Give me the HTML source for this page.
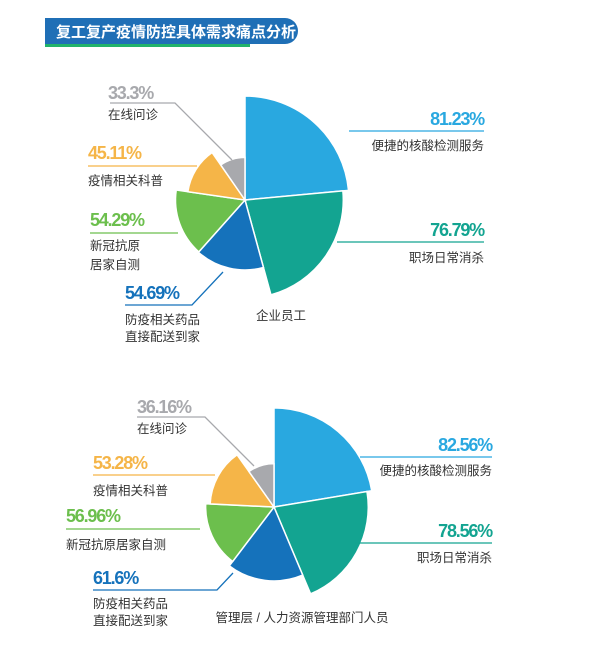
<!DOCTYPE html>
<html><head><meta charset="utf-8"><style>
body{margin:0;background:#fff;}
svg{display:block;font-family:"Liberation Sans","Noto Sans CJK SC",sans-serif;}
.pct{font-weight:bold;font-size:18px;letter-spacing:-1.2px;}
.lbl{font-size:12.5px;fill:#333;}
</style></head><body>
<svg id="c" width="600" height="648" viewBox="0 0 600 648">
<g>
<rect x="45" y="42" width="205" height="5" fill="#21b36b"/>
<path d="M45 18 H285 A13 13 0 0 1 285 44 H45 Z" fill="#1f6fb6"/>
<text x="56" y="37" font-size="15" font-weight="bold" fill="#fff">复工复产疫情防控具体需求痛点分析</text>
</g>
<g id="g1"></g>
<g id="g2"></g>
<g id="ann">
<!-- top chart -->
<text class="pct" x="108" y="99" fill="#a8a9ad">33.3%</text>
<polyline points="110,103 175,103 232,160" fill="none" stroke="#a8a9ad" stroke-width="1.3"/>
<text class="lbl" x="108" y="119">在线问诊</text>
<text class="pct" x="88" y="159" fill="#f5b548">45.11%</text>
<line x1="88" y1="166" x2="197" y2="166" stroke="#f5b548" stroke-width="1.3"/>
<text class="lbl" x="88" y="185">疫情相关科普</text>
<text class="pct" x="90" y="226" fill="#6cbf4d">54.29%</text>
<line x1="90" y1="233" x2="178" y2="233" stroke="#6cbf4d" stroke-width="1.3"/>
<text class="lbl" x="90" y="250">新冠抗原</text>
<text class="lbl" x="90" y="269">居家自测</text>
<text class="pct" x="125" y="299" fill="#1572bb">54.69%</text>
<polyline points="125,305 192,305 223,272" fill="none" stroke="#1572bb" stroke-width="1.3"/>
<text class="lbl" x="125" y="324">防疫相关药品</text>
<text class="lbl" x="125" y="341">直接配送到家</text>
<text class="pct" x="484" y="125" fill="#29a8e0" text-anchor="end">81.23%</text>
<line x1="349" y1="131" x2="484" y2="131" stroke="#29a8e0" stroke-width="1.3"/>
<text class="lbl" x="484" y="150" text-anchor="end">便捷的核酸检测服务</text>
<text class="pct" x="484" y="236" fill="#13a491" text-anchor="end">76.79%</text>
<line x1="337" y1="242" x2="484" y2="242" stroke="#13a491" stroke-width="1.3"/>
<text class="lbl" x="484" y="262" text-anchor="end">职场日常消杀</text>
<text class="lbl" x="281" y="320" text-anchor="middle">企业员工</text>
<!-- bottom chart -->
<text class="pct" x="137" y="413" fill="#a8a9ad">36.16%</text>
<polyline points="137,417 205,417 254,466" fill="none" stroke="#a8a9ad" stroke-width="1.3"/>
<text class="lbl" x="137" y="433">在线问诊</text>
<text class="pct" x="93" y="469" fill="#f5b548">53.28%</text>
<line x1="93" y1="475" x2="215" y2="475" stroke="#f5b548" stroke-width="1.3"/>
<text class="lbl" x="93" y="495">疫情相关科普</text>
<text class="pct" x="66" y="522" fill="#6cbf4d">56.96%</text>
<line x1="66" y1="529" x2="200" y2="529" stroke="#6cbf4d" stroke-width="1.3"/>
<text class="lbl" x="66" y="549">新冠抗原居家自测</text>
<text class="pct" x="93" y="584" fill="#1572bb">61.6%</text>
<polyline points="93,590 217,590 233,573" fill="none" stroke="#1572bb" stroke-width="1.3"/>
<text class="lbl" x="93" y="608">防疫相关药品</text>
<text class="lbl" x="93" y="625">直接配送到家</text>
<text class="pct" x="492" y="451" fill="#29a8e0" text-anchor="end">82.56%</text>
<line x1="360" y1="457" x2="492" y2="457" stroke="#29a8e0" stroke-width="1.3"/>
<text class="lbl" x="492" y="475" text-anchor="end">便捷的核酸检测服务</text>
<text class="pct" x="492" y="537" fill="#13a491" text-anchor="end">78.56%</text>
<line x1="355" y1="543" x2="492" y2="543" stroke="#13a491" stroke-width="1.3"/>
<text class="lbl" x="492" y="562" text-anchor="end">职场日常消杀</text>
<text class="lbl" x="302" y="622" text-anchor="middle">管理层 / 人力资源管理部门人员</text>
</g>
</svg>
<script>
const categories = ["便捷的核酸检测服务","职场日常消杀","防疫相关药品直接配送到家","新冠抗原居家自测","疫情相关科普","在线问诊"];
const colors = ["#29a8e0","#13a491","#1572bb","#6cbf4d","#f5b548","#a8a9ad"];
const staffValues = [81.23,76.79,54.69,54.29,45.11,33.3];
const mgmtValues = [82.56,78.56,61.6,56.96,53.28,36.16];
function rose(gid, values, cx, cy, k, name){
  const g = document.getElementById(gid);
  const total = values.reduce((a,b)=>a+b,0);
  let a0 = 0;
  values.forEach((v,i)=>{
    const span = v/total*Math.PI*2;
    const a1 = a0+span;
    const r = v*k;
    const x0 = cx+r*Math.sin(a0), y0 = cy-r*Math.cos(a0);
    const x1 = cx+r*Math.sin(a1), y1 = cy-r*Math.cos(a1);
    const p = document.createElementNS("http://www.w3.org/2000/svg","path");
    p.setAttribute("d",`M${cx} ${cy} L${x0} ${y0} A${r} ${r} 0 ${span>Math.PI?1:0} 1 ${x1} ${y1} Z`);
    p.setAttribute("fill",colors[i]);
    p.setAttribute("stroke","#fff");
    p.setAttribute("stroke-width","1.5");
    
    
    g.appendChild(p);
    a0 = a1;
  });
}
rose("g1", staffValues, 245, 200, 1.28, "staff");
rose("g2", mgmtValues, 274, 507, 1.2, "mgmt");
</script>
</body></html>
